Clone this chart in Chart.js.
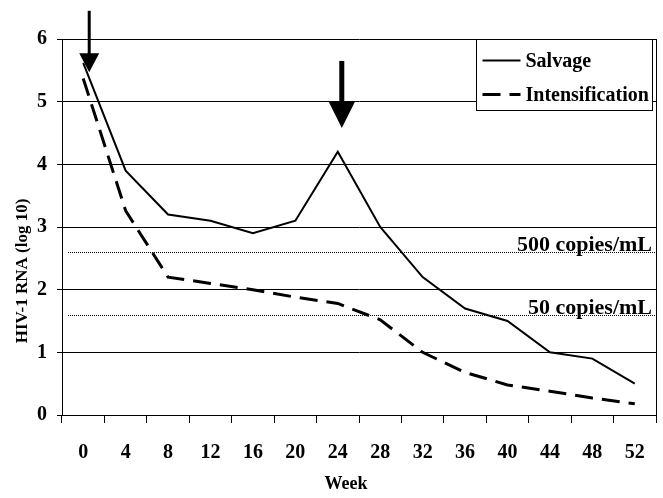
<!DOCTYPE html>
<html>
<head>
<meta charset="utf-8">
<script src="https://cdn.jsdelivr.net/npm/chart.js@4.4.0/dist/chart.umd.min.js"></script>
<style>
  body { margin: 0; background: #fff; }
</style>
</head>
<body>
<canvas id="hiv_line" width="663" height="498"></canvas>
<script>
// weeks on the x axis
weeks = ['0', '4', '8', '12', '16', '20', '24', '28', '32', '36', '40', '44', '48', '52']

// HIV-1 RNA (log 10)
salvage = [5.62, 3.9, 3.2, 3.1, 2.9, 3.1, 4.2, 3.0, 2.2, 1.7, 1.5, 1.0, 0.9, 0.5]
intensification = [5.37, 3.26, 2.2, 2.1, 2.0, 1.88, 1.78, 1.52, 1.0, 0.68, 0.48, 0.38, 0.27, 0.18]

// detection limits (dotted lines)
limits = [2.6, 1.6]
limitLabels = ['500 copies/mL', '50 copies/mL']

// arrows: week, top value, tip value
arrowWeeks = ['0', '24']
arrowTops = [6.45, 5.65]
arrowTips = [5.47, 4.58]

serif = '"Liberation Serif", "Times New Roman", serif'
boldFont = size => ({ family: serif, size: size, weight: 'bold' })

// text a little taller than wide, like the original
tallText = (ctx, text, x, y, sy) => {
  ctx.save()
  ctx.translate(x, y)
  ctx.scale(1, sy)
  ctx.fillText(text, 0, 0)
  ctx.restore()
}

// dotted lines, labels, legend box, arrows and axis titles
extras = {
  id: 'extras',
  afterDraw(chart) {
    const ctx = chart.ctx
    const area = chart.chartArea
    const x = chart.scales.x
    const y = chart.scales.y
    ctx.save()

    // right border of the plot
    ctx.strokeStyle = '#000'
    ctx.lineWidth = 1
    ctx.beginPath()
    ctx.moveTo(Math.round(area.right) + 0.5, area.top)
    ctx.lineTo(Math.round(area.right) + 0.5, area.bottom)
    ctx.stroke()

    // detection limits
    ctx.fillStyle = '#000'
    ctx.font = 'bold 22px ' + serif
    ctx.textAlign = 'right'
    ctx.textBaseline = 'alphabetic'
    limits.forEach((v, i) => {
      const py = Math.round(y.getPixelForValue(v)) + 0.5
      ctx.setLineDash([1, 1])
      ctx.beginPath()
      ctx.moveTo(area.left + 6, py)
      ctx.lineTo(area.right, py)
      ctx.stroke()
      ctx.setLineDash([])
      ctx.fillText(limitLabels[i], area.right - 4, py - 2)
    })

    // arrows
    arrowWeeks.forEach((w, i) => {
      const px = x.getPixelForValue(weeks.indexOf(w)) + (i == 0 ? 6 : 4)
      const top = y.getPixelForValue(arrowTops[i])
      const tip = y.getPixelForValue(arrowTips[i])
      const head = i == 0 ? 19 : 26
      const half = i == 0 ? 10 : 13
      ctx.lineWidth = i == 0 ? 3 : 5
      ctx.beginPath()
      ctx.moveTo(px, top)
      ctx.lineTo(px, tip - head + 2)
      ctx.stroke()
      ctx.beginPath()
      ctx.moveTo(px - half, tip - head)
      ctx.lineTo(px + half, tip - head)
      ctx.lineTo(px, tip)
      ctx.closePath()
      ctx.fill()
    })

    // legend box
    const lx = Math.round(area.right) - 179.5
    const ly = Math.round(area.top) + 0.5
    ctx.lineWidth = 1
    ctx.fillStyle = '#fff'
    ctx.fillRect(lx, ly, 176, 71)
    ctx.strokeRect(lx, ly, 176, 71)
    ctx.fillStyle = '#000'
    ctx.font = 'bold 20px ' + serif
    ctx.textAlign = 'left'
    ctx.textBaseline = 'middle'
    chart.data.datasets.forEach((ds, i) => {
      const ry = ly + 21 + i * 34
      ctx.lineWidth = ds.borderWidth
      ctx.setLineDash(ds.borderDash || [])
      ctx.beginPath()
      ctx.moveTo(lx + 6, ry)
      ctx.lineTo(lx + 44, ry)
      ctx.stroke()
      ctx.setLineDash([])
      tallText(ctx, ds.label, lx + 49, ry + 1, 1.1)
    })

    // axis titles
    ctx.textAlign = 'center'
    ctx.font = 'bold 18px ' + serif
    tallText(ctx, 'Week', 346, 484, 1.1)
    ctx.translate(23, 271)
    ctx.rotate(-Math.PI / 2)
    ctx.font = 'bold 17px ' + serif
    ctx.fillText('HIV-1 RNA (log 10)', 0, 0)
    ctx.restore()
  }
}

chartdata = {
  labels: weeks,
  datasets: [{
    label: 'Salvage',
    data: salvage,
    borderColor: '#000',
    borderWidth: 2,
    pointRadius: 0,
    tension: 0,
    fill: false
  }, {
    label: 'Intensification',
    data: intensification,
    borderColor: '#000',
    borderWidth: 3,
    borderDash: [18, 9],
    pointRadius: 0,
    tension: 0,
    fill: false
  }]
}

config = {
  type: 'line',
  data: chartdata,
  options: {
    responsive: false,
    animation: false,
    layout: { padding: { top: 39, right: 6, left: 0, bottom: 0 } },
    plugins: { legend: { display: false }, tooltip: { enabled: false } },
    scales: {
      x: {
        offset: true,
        grid: { offset: true, drawOnChartArea: false, color: '#000', tickLength: 8, lineWidth: 1 },
        border: { color: '#000', width: 1 },
        ticks: { color: '#000', font: boldFont(20), padding: 18, maxRotation: 0, autoSkip: false },
        afterFit: s => { s.height = 83 }
      },
      y: {
        min: 0,
        max: 6,
        ticks: { stepSize: 1, color: '#000', font: boldFont(20), padding: 10 },
        grid: { color: '#000', tickLength: 5, lineWidth: 1 },
        border: { color: '#000', width: 1 },
        afterFit: s => { s.width = 62 }
      }
    }
  },
  plugins: [extras]
}

var myChart = new Chart(document.getElementById('hiv_line'), config)
</script>
</body>
</html>
